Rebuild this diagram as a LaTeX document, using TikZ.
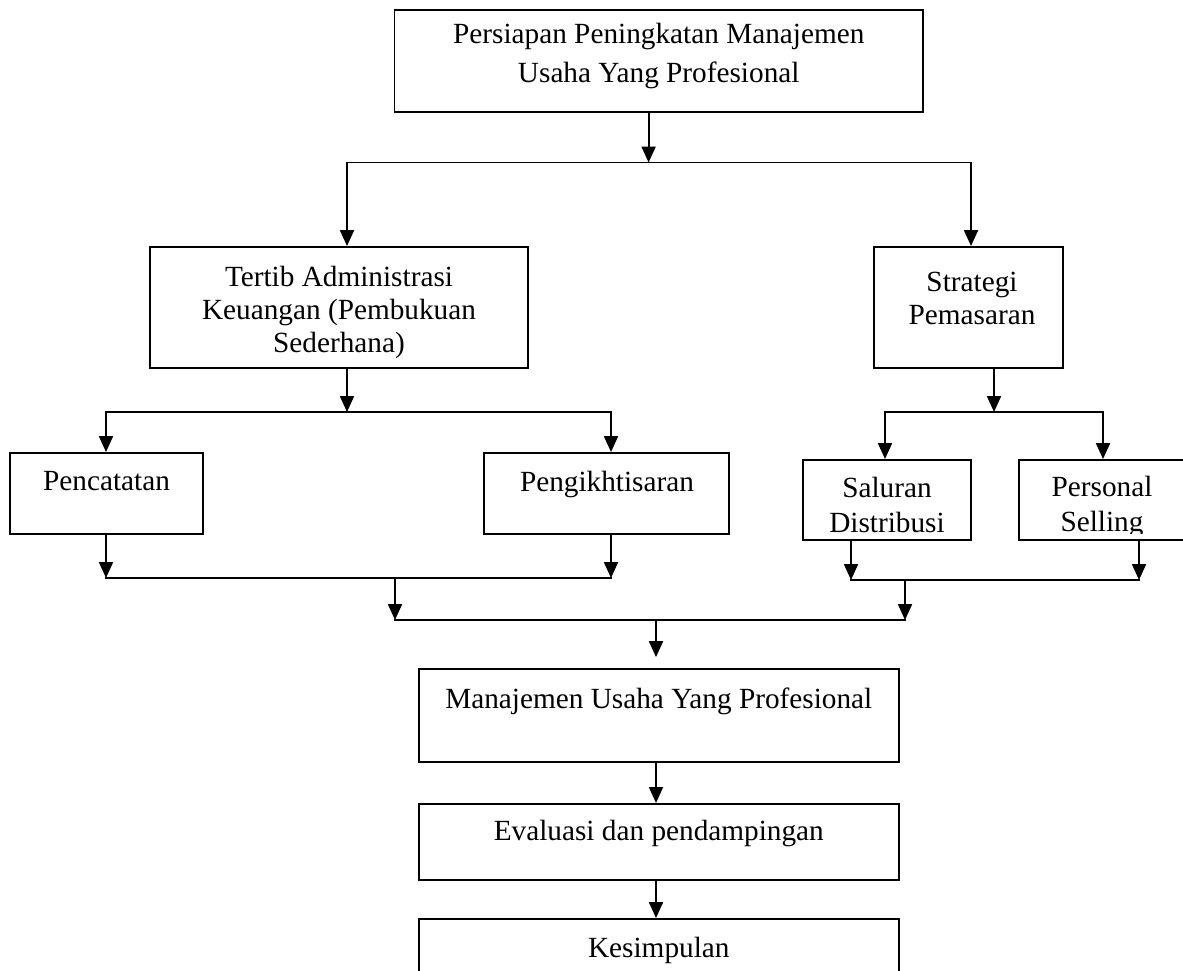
\documentclass[tikz,border=0pt]{standalone}
\usepackage{fontspec}
\setmainfont{Liberation Serif}
\usetikzlibrary{arrows.meta}

\begin{document}
\begin{tikzpicture}[x=0.41pt, y=-0.41pt,
		kotak/.style = {draw, line width=0.8pt, inner sep=0pt},
		teks/.style = {inner sep=0pt, align=center, font=\fontsize{12}{13.5}\selectfont},
		garis/.style = {line width=0.8pt, line cap=rect},
		panah/.style = {line width=0.8pt, -{Triangle[width=5.7pt, length=6.5pt]}}]
	\useasboundingbox (0, 0) rectangle (1183, 970);
	% Kotak atas
	\node [kotak, minimum width=216.7pt, minimum height=41.8pt] (persiapan) at (658.75, 61) {};
	\node [teks, anchor=north, font=\fontsize{12}{16}\selectfont] (persiapan-t) at (658.75, 22.5) {Persiapan Peningkatan Manajemen\\Usaha Yang Profesional};
	% Kotak tengah
	\node [kotak, minimum width=155pt, minimum height=49.6pt] (tertib) at (339, 307.5) {};
	\node [teks, anchor=north] (tertib-t) at (339, 266) {Tertib Administrasi\\Keuangan (Pembukuan\\Sederhana)};
	\node [kotak, minimum width=77.5pt, minimum height=49.6pt] (strategi) at (968.5, 307.5) {};
	\node [teks, anchor=north] (strategi-t) at (972, 272) {Strategi\\Pemasaran};
	% Kotak bawah kiri
	\node [kotak, minimum width=79.1pt, minimum height=33.2pt] (catat) at (106.5, 493.5) {};
	\node [teks, anchor=base] (catat-t) at (106.5, 490) {Pencatatan};
	\node [kotak, minimum width=100.5pt, minimum height=33.2pt] (ikhtisar) at (606.5, 493.5) {};
	\node [teks, anchor=base] (ikhtisar-t) at (607, 491) {Pengikhtisaran};
	% Kotak bawah kanan
	\node [kotak, minimum width=68.9pt, minimum height=32.8pt] (saluran) at (887, 500) {};
	\node [kotak, minimum width=68.1pt, minimum height=32.8pt] (personal) at (1102, 500) {};
	\begin{scope}
		\clip (803, 460) rectangle (1185, 533);
		\node [teks, anchor=north, font=\fontsize{12}{14.4}\selectfont] (saluran-t) at (887, 477) {Saluran\\Distribusi};
		\node [teks, anchor=north, font=\fontsize{12}{14.4}\selectfont] (personal-t) at (1102, 476) {Personal\\Selling};
	\end{scope}
	% Kotak akhir
	\node [kotak, minimum width=197pt, minimum height=38.1pt] (manajemen) at (658.8, 715.5) {};
	\node [teks, anchor=base] (manajemen-t) at (658.8, 708) {Manajemen Usaha Yang Profesional};
	\node [kotak, minimum width=197pt, minimum height=31.2pt] (evaluasi) at (658.8, 842) {};
	\node [teks, anchor=base] (evaluasi-t) at (658.8, 840) {Evaluasi dan pendampingan};
	\node [kotak, minimum width=197pt, minimum height=25pt] (kesimpulan) at (658.8, 949.5) {};
	\node [teks, anchor=base] (kesimpulan-t) at (658.8, 957) {Kesimpulan};
	% Garis cabang atas
	\coordinate (j1) at (648.6, 162.5);
	\coordinate (j1a) at (347, 162.5);
	\coordinate (j1b) at (971, 162.5);
	\draw [panah] (persiapan.south -| j1) -- (j1);
	\draw [garis] (j1a) -- (j1b);
	\draw [panah] (j1a) -- (j1a |- tertib.north);
	\draw [panah] (j1b) -- (j1b |- strategi.north);
	% Cabang keuangan
	\coordinate (j2) at (347, 412);
	\coordinate (j2a) at (106, 412);
	\coordinate (j2b) at (611, 412);
	\draw [panah] (tertib.south -| j2) -- (j2);
	\draw [garis] (j2a) -- (j2b);
	\draw [panah] (j2a) -- (j2a |- catat.north);
	\draw [panah] (j2b) -- (j2b |- ikhtisar.north);
	% Cabang pemasaran
	\coordinate (j3) at (994, 412);
	\coordinate (j3a) at (885, 412);
	\coordinate (j3b) at (1103, 412);
	\draw [panah] (strategi.south -| j3) -- (j3);
	\draw [garis] (j3a) -- (j3b);
	\draw [panah] (j3a) -- (j3a |- saluran.north);
	\draw [panah] (j3b) -- (j3b |- personal.north);
	% Gabungan kiri
	\coordinate (j4) at (395, 578);
	\coordinate (j4a) at (106, 578);
	\coordinate (j4b) at (611, 578);
	\draw [panah] (catat.south -| j4a) -- (j4a);
	\draw [panah] (ikhtisar.south -| j4b) -- (j4b);
	\draw [garis] (j4a) -- (j4b);
	% Gabungan kanan
	\coordinate (j5) at (905, 580);
	\coordinate (j5a) at (851, 580);
	\coordinate (j5b) at (1139, 580);
	\draw [panah] (saluran.south -| j5a) -- (j5a);
	\draw [panah] (personal.south -| j5b) -- (j5b);
	\draw [garis] (j5a) -- (j5b);
	% Gabungan akhir
	\coordinate (j6) at (656, 620);
	\coordinate (j6a) at (395, 620);
	\coordinate (j6b) at (905, 620);
	\draw [panah] (j4) -- (j6a);
	\draw [panah] (j5) -- (j6b);
	\draw [garis] (j6a) -- (j6b);
	\draw [panah, shorten >=4.5pt] (j6) -- (j6 |- manajemen.north);
	\draw [panah] (manajemen.south -| j6) -- (evaluasi.north -| j6);
	\draw [panah] (evaluasi.south -| j6) -- (kesimpulan.north -| j6);
\end{tikzpicture}
\end{document}
